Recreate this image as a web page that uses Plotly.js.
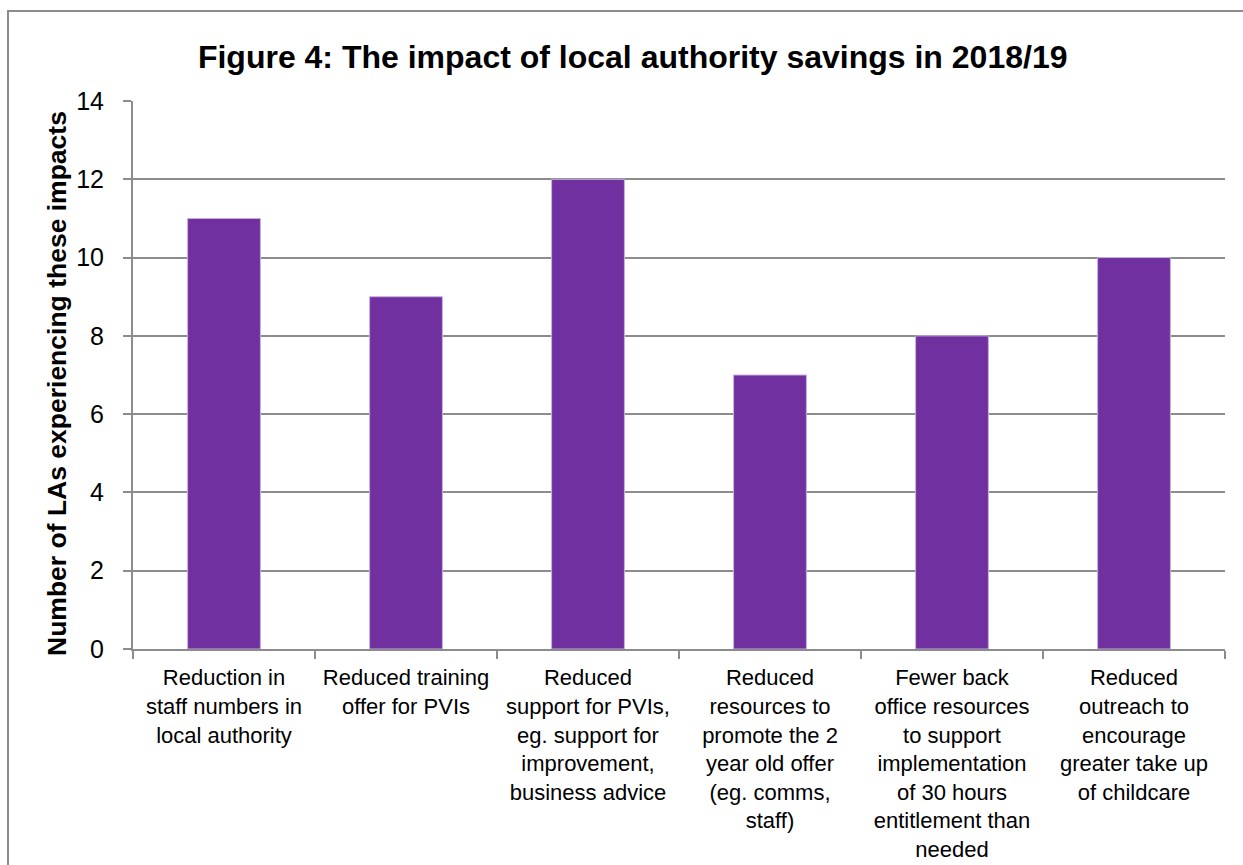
<!DOCTYPE html>
<html>
<head>
<meta charset="utf-8">
<script src="https://cdn.plot.ly/plotly-3.0.1.min.js"></script>
<style>
  html, body { margin: 0; padding: 0; background: #ffffff; overflow: hidden; }
  #frame { position: absolute; left: 7px; top: 10px; width: 1300px; height: 900px; border: 2px solid #8c8c8c; box-sizing: border-box; }
  #chart { position: absolute; left: 0; top: 0; width: 1243px; height: 865px; }
</style>
</head>
<body>
<div id="frame"></div>
<div id="chart"></div>
<script>
const categories = [
  "Reduction in<br>staff numbers in<br>local authority",
  "Reduced training<br>offer for PVIs",
  "Reduced<br>support for PVIs,<br>eg. support for<br>improvement,<br>business advice",
  "Reduced<br>resources to<br>promote the 2<br>year old offer<br>(eg. comms,<br>staff)",
  "Fewer back<br>office resources<br>to support<br>implementation<br>of 30 hours<br>entitlement than<br>needed",
  "Reduced<br>outreach to<br>encourage<br>greater take up<br>of childcare"
];
const values = [11, 9, 12, 7, 8, 10];
const yTickValues = [0, 2, 4, 6, 8, 10, 12, 14];
const yTickLabels = ["0", "2", "4", "6", "8", "10", "12", "14"];
const yAxisTitle = "Number of LAs experiencing these impacts";
const chartTitle = "Figure 4: The impact of local authority savings in 2018/19";

const trace = {
  type: 'bar',
  x: categories,
  y: values,
  marker: { color: '#7030A0', line: { color: '#c9b0e0', width: 1 } },
  hoverinfo: 'x+y'
};

const layout = {
  width: 1243,
  height: 865,
  paper_bgcolor: 'rgba(0,0,0,0)',
  plot_bgcolor: 'rgba(0,0,0,0)',
  margin: { l: 133, r: 18, t: 101, b: 216 },
  bargap: 0.6,
  font: { family: 'Liberation Sans, Arial, sans-serif', color: '#000000' },
  title: {
    text: '<b>' + chartTitle + '</b>',
    font: { size: 32, family: 'Liberation Sans, Arial, sans-serif', color: '#000000' },
    xref: 'container', yref: 'container',
    x: 0.509, y: 0.934, xanchor: 'center', yanchor: 'middle'
  },
  xaxis: {
    type: 'category',
    showline: true, linecolor: '#8c8c8c', linewidth: 2,
    ticks: 'outside', tickson: 'boundaries', ticklen: 8, tickcolor: '#8c8c8c', tickwidth: 2,
    tickfont: { size: 22, color: '#000000' },
    ticklabelstandoff: 8,
    tickangle: 0,
    showgrid: false,
    automargin: false
  },
  yaxis: {
    range: [0, 14],
    tickvals: yTickValues,
    ticktext: yTickLabels,
    showline: true, linecolor: '#8c8c8c', linewidth: 2,
    ticks: 'outside', ticklen: 8, tickcolor: '#8c8c8c', tickwidth: 2,
    tickfont: { size: 25, color: '#000000' },
    ticklabelstandoff: 14,
    showgrid: true, gridcolor: '#8c8c8c', gridwidth: 2,
    zeroline: false,
    automargin: false
  },
  annotations: [{
    text: '<b>' + yAxisTitle + '</b>',
    xref: 'paper', yref: 'paper',
    x: 0, y: 0.4836,
    xanchor: 'center', yanchor: 'middle',
    xshift: -76,
    textangle: -90,
    showarrow: false,
    font: { size: 26.5, color: '#000000' }
  }],
  showlegend: false
};

Plotly.newPlot('chart', [trace], layout, { displayModeBar: false, staticPlot: true });
</script>
</body>
</html>
